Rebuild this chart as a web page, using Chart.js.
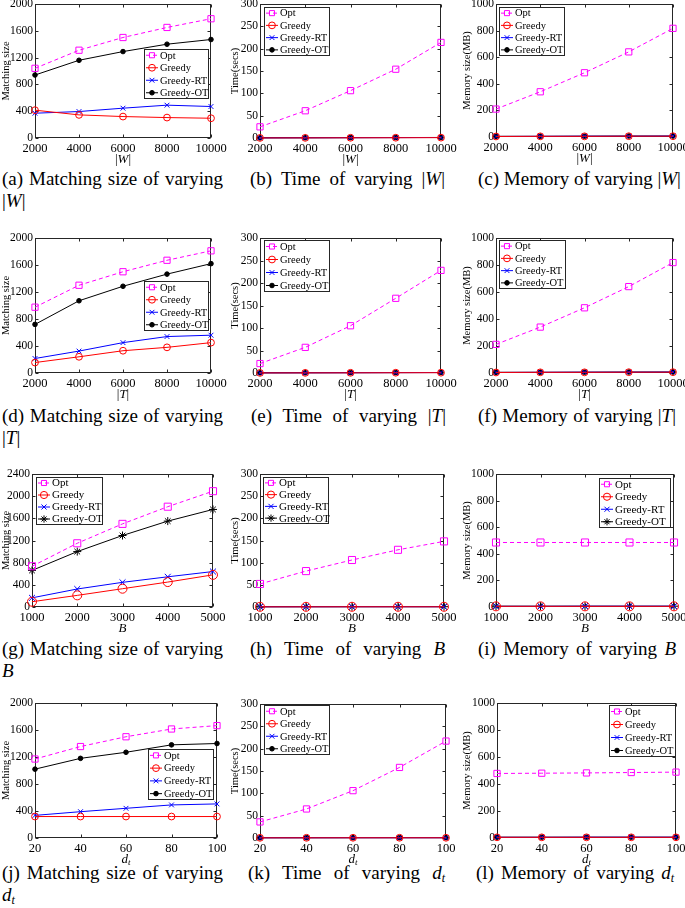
<!DOCTYPE html>
<html>
<head>
<meta charset="utf-8">
<script src="https://cdn.jsdelivr.net/npm/chart.js@4.4.0/dist/chart.umd.min.js"></script>
<style>
body { margin: 0; width: 685px; height: 908px; overflow: hidden; background: #fff; position: relative; }
.panel { position: absolute; }
.cap, .cap2 { position: absolute; font-family: "Liberation Serif", serif; font-size: 19px; line-height: 20px; color: #000; white-space: nowrap; }
.cap { text-align: justify; text-align-last: justify; }
.cap sub, .cap2 sub { font-size: 12px; vertical-align: -3px; font-style: italic; }
</style>
</head>
<body>

<div class="cap" style="left:2px;top:169px;width:221px">(a) Matching size of varying</div>
<div class="cap2" style="left:2px;top:191px">|<i>W</i>|</div>
<div class="cap" style="left:250px;top:169px;width:195px">(b) Time of varying |<i>W</i>|</div>
<div class="cap" style="left:478px;top:169px;width:198px">(c) Memory of varying |<i>W</i>|</div>

<div class="cap" style="left:2px;top:406px;width:221px">(d) Matching size of varying</div>
<div class="cap2" style="left:2px;top:428px">|<i>T</i>|</div>
<div class="cap" style="left:251px;top:406px;width:195px">(e) Time of varying |<i>T</i>|</div>
<div class="cap" style="left:478px;top:406px;width:198px">(f) Memory of varying |<i>T</i>|</div>

<div class="cap" style="left:2px;top:639px;width:221px">(g) Matching size of varying</div>
<div class="cap2" style="left:2px;top:661px"><i>B</i></div>
<div class="cap" style="left:250px;top:639px;width:195px">(h) Time of varying <i>B</i></div>
<div class="cap" style="left:478px;top:639px;width:198px">(i) Memory of varying <i>B</i></div>

<div class="cap" style="left:2px;top:863px;width:221px">(j) Matching size of varying</div>
<div class="cap2" style="left:2px;top:885px"><i>d</i><sub>t</sub></div>
<div class="cap" style="left:248px;top:863px;width:197px">(k) Time of varying <i>d</i><sub>t</sub></div>
<div class="cap" style="left:476px;top:863px;width:198px">(l) Memory of varying <i>d</i><sub>t</sub></div>

<script>
// x values
const xW = [2000, 4000, 6000, 8000, 10000];
const xT = [2000, 4000, 6000, 8000, 10000];
const xB = [1000, 2000, 3000, 4000, 5000];
const xD = [20, 40, 60, 80, 100];

// (a) matching size vs |W|
const sizeW_opt = [1040, 1310, 1500, 1650, 1780];
const sizeW_greedy = [415, 345, 320, 305, 295];
const sizeW_rt = [370, 395, 445, 490, 470];
const sizeW_ot = [940, 1160, 1290, 1400, 1470];
// (b) time vs |W|
const timeW_opt = [25, 61, 106, 154, 214];
const timeW_greedy = [0.2, 0.3, 0.5, 0.6, 0.8];
const timeW_rt = [0.3, 0.5, 0.7, 0.9, 1.1];
const timeW_ot = [0.3, 0.5, 0.8, 1.0, 1.2];
// (c) memory vs |W|
const memW_opt = [210, 340, 483, 640, 817];
const memW_greedy = [4, 5, 5, 6, 6];
const memW_rt = [4, 5, 6, 6, 7];
const memW_ot = [5, 5, 6, 7, 7];

// (d) matching size vs |T|
const sizeT_opt = [975, 1300, 1500, 1670, 1810];
const sizeT_greedy = [155, 240, 330, 380, 450];
const sizeT_rt = [215, 325, 450, 540, 560];
const sizeT_ot = [720, 1070, 1285, 1465, 1620];
// (e) time vs |T|
const timeT_opt = [21, 57, 105, 166, 228];
const timeT_greedy = [0.2, 0.3, 0.4, 0.6, 0.7];
const timeT_rt = [0.3, 0.4, 0.6, 0.8, 1.0];
const timeT_ot = [0.3, 0.5, 0.7, 0.9, 1.1];
// (f) memory vs |T|
const memT_opt = [212, 340, 483, 640, 818];
const memT_greedy = [4, 5, 5, 6, 6];
const memT_rt = [4, 5, 6, 6, 7];
const memT_ot = [5, 5, 6, 7, 7];

// (g) matching size vs B
const sizeB_opt = [735, 1150, 1500, 1810, 2090];
const sizeB_greedy = [95, 210, 330, 450, 580];
const sizeB_rt = [165, 325, 445, 545, 640];
const sizeB_ot = [660, 1000, 1290, 1550, 1760];
// (h) time vs B
const timeB_opt = [52, 81, 106, 129, 148];
const timeB_greedy = [0.4, 0.4, 0.5, 0.5, 0.5];
const timeB_rt = [0.5, 0.5, 0.6, 0.6, 0.6];
const timeB_ot = [0.5, 0.6, 0.6, 0.7, 0.7];
// (i) memory vs B
const memB_opt = [485, 485, 485, 485, 485];
const memB_greedy = [5, 5, 5, 5, 5];
const memB_rt = [5, 5, 6, 6, 6];
const memB_ot = [6, 6, 6, 6, 6];

// (j) matching size vs d_t
const sizeD_opt = [1170, 1355, 1500, 1615, 1665];
const sizeD_greedy = [318, 318, 318, 318, 318];
const sizeD_rt = [335, 390, 440, 490, 505];
const sizeD_ot = [1020, 1180, 1270, 1380, 1400];
// (k) time vs d_t
const timeD_opt = [36, 65, 106, 158, 217];
const timeD_greedy = [0.4, 0.4, 0.5, 0.5, 0.5];
const timeD_rt = [0.5, 0.5, 0.6, 0.6, 0.6];
const timeD_ot = [0.5, 0.6, 0.6, 0.7, 0.7];
// (l) memory vs d_t
const memD_opt = [478, 480, 482, 485, 488];
const memD_greedy = [5, 5, 5, 5, 5];
const memD_rt = [5, 5, 6, 6, 6];
const memD_ot = [6, 6, 6, 6, 6];

const seriesNames = ['Opt', 'Greedy', 'Greedy-RT', 'Greedy-OT'];

const MAG = '#ff00ff', RED = '#ff0000', BLUE = '#0000ff', BLK = '#000000';
const FONT = '"Liberation Serif", "Times New Roman", serif';

const xtW = [['|', 'normal'], ['W', 'italic'], ['|', 'normal']];
const xtT = [['|', 'normal'], ['T', 'italic'], ['|', 'normal']];
const xtB = [['B', 'italic']];
const xtD = [['d', 'italic'], ['t', 'italic', 0.7, 3]];

// layout of each panel: plot box and legend box in page pixels
const panels = [
  { col: 0, plot: [35, 4, 211, 138], xs: xW, ys: [sizeW_opt, sizeW_greedy, sizeW_rt, sizeW_ot], yMax: 2000, yStep: 400, ytitle: 'Matching size', xt: xtW, legend: [144, 49, 209, 99] },
  { col: 228, plot: [260, 4, 441, 138], xs: xW, ys: [timeW_opt, timeW_greedy, timeW_rt, timeW_ot], yMax: 300, yStep: 50, ytitle: 'Time(secs)', xt: xtW, legend: [264, 7, 330, 56] },
  { col: 456, plot: [496, 4, 673, 137], xs: xW, ys: [memW_opt, memW_greedy, memW_rt, memW_ot], yMax: 1000, yStep: 200, ytitle: 'Memory size(MB)', xt: xtW, legend: [499, 7, 565, 56] },

  { col: 0, plot: [35, 238, 211, 373], xs: xT, ys: [sizeT_opt, sizeT_greedy, sizeT_rt, sizeT_ot], yMax: 2000, yStep: 400, ytitle: 'Matching size', xt: xtT, legend: [144, 281, 209, 331] },
  { col: 228, plot: [260, 238, 441, 373], xs: xT, ys: [timeT_opt, timeT_greedy, timeT_rt, timeT_ot], yMax: 300, yStep: 50, ytitle: 'Time(secs)', xt: xtT, legend: [264, 240, 330, 292] },
  { col: 456, plot: [496, 238, 673, 373], xs: xT, ys: [memT_opt, memT_greedy, memT_rt, memT_ot], yMax: 1000, yStep: 200, ytitle: 'Memory size(MB)', xt: xtT, legend: [499, 240, 566, 289] },

  { col: 0, plot: [32, 474, 213, 607], xs: xB, ys: [sizeB_opt, sizeB_greedy, sizeB_rt, sizeB_ot], yMax: 2400, yStep: 400, ytitle: 'Matching size', xt: xtB, legend: [36, 477, 103, 525], big: true },
  { col: 228, plot: [260, 474, 444, 607], xs: xB, ys: [timeB_opt, timeB_greedy, timeB_rt, timeB_ot], yMax: 300, yStep: 50, ytitle: 'Time(secs)', xt: xtB, legend: [263, 477, 329, 524], big: true },
  { col: 456, plot: [496, 474, 674, 607], xs: xB, ys: [memB_opt, memB_greedy, memB_rt, memB_ot], yMax: 1000, yStep: 200, ytitle: 'Memory size(MB)', xt: xtB, legend: [599, 478, 671, 528], big: true },

  { col: 0, plot: [35, 703, 217, 838], xs: xD, ys: [sizeD_opt, sizeD_greedy, sizeD_rt, sizeD_ot], yMax: 2000, yStep: 400, ytitle: 'Matching size', xt: xtD, legend: [148, 749, 214, 800] },
  { col: 228, plot: [260, 704, 446, 838], xs: xD, ys: [timeD_opt, timeD_greedy, timeD_rt, timeD_ot], yMax: 300, yStep: 50, ytitle: 'Time(secs)', xt: xtD, legend: [264, 705, 330, 755] },
  { col: 456, plot: [497, 703, 676, 838], xs: xD, ys: [memD_opt, memD_greedy, memD_rt, memD_ot], yMax: 1000, yStep: 200, ytitle: 'Memory size(MB)', xt: xtD, legend: [609, 705, 676, 757] }
];

const yTitleX = { 0: 6, 228: 7, 456: 11 };

function seriesStyles(big) {
  return [
    { borderColor: MAG, borderDash: [4, 3], pointStyle: 'rect', pointRadius: big ? 5 : 4.4, pointBackgroundColor: 'rgba(0,0,0,0)' },
    { borderColor: RED, pointStyle: 'circle', pointRadius: big ? 4.5 : 3.4, pointBackgroundColor: 'rgba(0,0,0,0)' },
    { borderColor: BLUE, pointStyle: 'crossRot', pointRadius: big ? 4.2 : 3.4, pointBackgroundColor: BLUE },
    { borderColor: BLK, pointStyle: big ? 'star' : 'circle', pointRadius: big ? 4 : 2.3, pointBackgroundColor: BLK }
  ];
}

function drawSegments(ctx, segs, cx, cy, size) {
  let total = 0;
  const parts = segs.map(s => {
    const sz = size * (s[2] || 1);
    const f = s[1] + ' ' + sz + 'px ' + FONT;
    ctx.font = f;
    const w = ctx.measureText(s[0]).width;
    total += w;
    return { t: s[0], f: f, w: w, dy: s[3] || 0 };
  });
  let x = cx - total / 2;
  ctx.textBaseline = 'middle';
  ctx.textAlign = 'left';
  parts.forEach(p => {
    ctx.font = p.f;
    ctx.fillText(p.t, x, cy + p.dy);
    x += p.w;
  });
}

const framePlugin = {
  id: 'frame',
  beforeDatasetsDraw(chart) {
    const { ctx, chartArea: a, scales } = chart;
    const L = Math.round(a.left) + 0.5, R = Math.round(a.right) - 0.5;
    const T = Math.round(a.top) + 0.5, B = Math.round(a.bottom) - 0.5;
    ctx.save();
    ctx.strokeStyle = '#262626';
    ctx.lineWidth = 1;
    ctx.strokeRect(L, T, R - L, B - T);
    ctx.beginPath();
    scales.x.ticks.forEach(t => {
      const px = Math.round(scales.x.getPixelForValue(t.value)) + 0.5;
      ctx.moveTo(px, B); ctx.lineTo(px, B - 3);
      ctx.moveTo(px, T); ctx.lineTo(px, T + 3);
    });
    scales.y.ticks.forEach(t => {
      const py = Math.round(scales.y.getPixelForValue(t.value)) + 0.5;
      ctx.moveTo(L, py); ctx.lineTo(L + 3, py);
      ctx.moveTo(R, py); ctx.lineTo(R - 3, py);
    });
    ctx.stroke();
    ctx.restore();
  },
  afterDatasetsDraw(chart, args, opts) {
    const { ctx, chartArea: a } = chart;
    const p = opts.panel;
    const ox = opts.ox, oy = opts.oy;
    ctx.save();
    ctx.fillStyle = '#000';
    // x title
    drawSegments(ctx, p.xt, (a.left + a.right) / 2, a.bottom + 22, 13);
    // y title
    ctx.translate(yTitleX[p.col], (a.top + a.bottom) / 2);
    ctx.rotate(-Math.PI / 2);
    ctx.font = '10.5px ' + FONT;
    ctx.textAlign = 'center';
    ctx.textBaseline = 'middle';
    ctx.fillText(p.ytitle, 0, 0);
    ctx.restore();

    // legend box
    const [l0, t0, r0, b0] = p.legend;
    const l = l0 - ox, t = t0 - oy, r = r0 - ox, b = b0 - oy;
    ctx.save();
    ctx.fillStyle = '#fff';
    ctx.fillRect(l, t, r - l, b - t);
    ctx.strokeStyle = '#262626';
    ctx.lineWidth = 1;
    ctx.strokeRect(Math.round(l) + 0.5, Math.round(t) + 0.5, r - l - 1, b - t - 1);
    const pitch = (b - t) / 4;
    chart.data.datasets.forEach((ds, i) => {
      const yy = t + pitch * (i + 0.5);
      ctx.strokeStyle = ds.borderColor;
      ctx.lineWidth = 1;
      ctx.setLineDash(ds.borderDash || []);
      ctx.beginPath();
      ctx.moveTo(l + 2, yy); ctx.lineTo(l + 14, yy);
      ctx.stroke();
      ctx.setLineDash([]);
      ctx.fillStyle = ds.pointBackgroundColor;
      Chart.helpers.drawPoint(ctx, { pointStyle: ds.pointStyle, radius: Math.min(ds.pointRadius, 3.6), rotation: 0, borderWidth: 1 }, l + 8, yy);
      ctx.fillStyle = '#000';
      ctx.font = (p.big ? 11 : 10.5) + 'px ' + FONT;
      ctx.textAlign = 'left';
      ctx.textBaseline = 'middle';
      ctx.fillText(ds.label, l + 16, yy + 0.5);
    });
    ctx.restore();
  }
};

function buildPanel(p) {
  const [pl, pt, pr, pb] = p.plot;
  const cl = p.col, ct = pt - 10, cr = pr + 20, cb = pb + 32;
  const wrap = document.createElement('div');
  wrap.className = 'panel';
  wrap.style.left = cl + 'px';
  wrap.style.top = ct + 'px';
  wrap.style.width = (cr - cl) + 'px';
  wrap.style.height = (cb - ct) + 'px';
  const cv = document.createElement('canvas');
  wrap.appendChild(cv);
  document.body.appendChild(wrap);

  const st = seriesStyles(p.big);
  const datasets = p.ys.map((vals, i) => Object.assign({
    label: seriesNames[i],
    data: vals.map((v, k) => ({ x: p.xs[k], y: v })),
    borderWidth: 1,
    pointBorderColor: st[i].borderColor,
    pointBorderWidth: 1,
    clip: false,
    tension: 0
  }, st[i]));

  new Chart(cv, {
    type: 'line',
    data: { datasets: datasets },
    options: {
      responsive: true,
      maintainAspectRatio: false,
      animation: false,
      events: [],
      layout: { padding: { top: pt - ct, right: cr - pr, left: 0, bottom: 0 } },
      plugins: {
        legend: { display: false },
        tooltip: { enabled: false },
        frame: { panel: p, ox: cl, oy: ct }
      },
      scales: {
        x: {
          type: 'linear',
          min: p.xs[0],
          max: p.xs[p.xs.length - 1],
          ticks: { stepSize: p.xs[1] - p.xs[0], font: { family: FONT, size: 12.5 }, color: '#000', padding: 3, maxRotation: 0, autoSkip: false, callback: v => String(v) },
          grid: { display: false, drawTicks: false },
          border: { display: false },
          afterFit: s => { s.height = cb - pb; }
        },
        y: {
          min: 0,
          max: p.yMax,
          ticks: { stepSize: p.yStep, font: { family: FONT, size: 11.5 }, color: '#000', padding: 2, callback: v => String(v) },
          grid: { display: false, drawTicks: false },
          border: { display: false },
          afterFit: s => { s.width = pl - cl; }
        }
      }
    },
    plugins: [framePlugin]
  });
}

panels.forEach(buildPanel);
</script>
</body>
</html>
